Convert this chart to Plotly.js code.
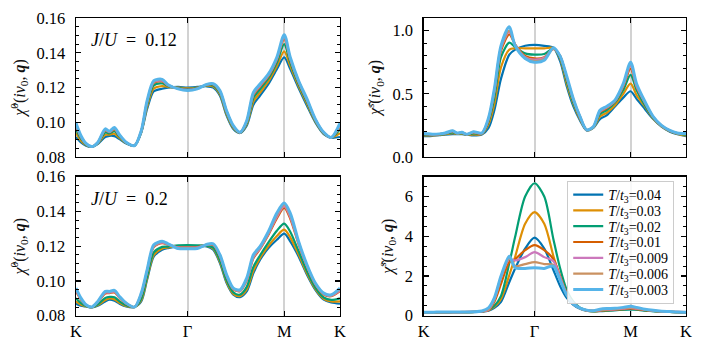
<!DOCTYPE html>
<html>
<head>
<meta charset="utf-8">
<script src="https://cdn.plot.ly/plotly-3.0.1.min.js"></script>
<style>
  html, body { margin: 0; padding: 0; background: #ffffff; }
  #chart { width: 706px; height: 352px; }
</style>
</head>
<body>
<div id="chart"></div>
<script>
// 路徑 K-Γ-M-K 的弧長座標
const qPath = [0, 0.06, 0.12, 0.19, 0.26, 0.35, 0.40, 0.46, 0.52, 0.60,
    0.70, 0.78, 0.85, 0.93, 1.03, 1.10, 1.22, 1.3333, 1.45, 1.56,
    1.64, 1.72, 1.80, 1.88, 1.96, 2.04, 2.12, 2.20, 2.30, 2.40,
    2.488, 2.56, 2.66, 2.76, 2.86, 2.96, 3.05, 3.1547];
const pathTicks = [0, 1.3333, 2.488, 3.1547];
const pathLabels = ['K', 'Γ', 'M', 'K'];
const tempLabels = ['0.04', '0.03', '0.02', '0.01', '0.009', '0.006', '0.003'];

// χ0, J/U = 0.12
const chi0a_T040 = [.0915, .0884, .0865, .0859, .0874, .0915, .0922, .0920, .0903, .0878, .0865, .0940, .1076, .1178, .1193, .1199, .1203, .1200, .1203, .1207, .1200, .1153, .1038, .0961, .0938, .0980, .1101, .1153, .1220, .1306, .1373, .1306, .1197, .1095, .0999, .0932, .0911, .0915];
const chi0a_T030 = [.0937, .0894, .0869, .0859, .0877, .0928, .0929, .0934, .0910, .0880, .0865, .0943, .1089, .1194, .1208, .1204, .1200, .1195, .1200, .1210, .1206, .1161, .1046, .0966, .0939, .0988, .1120, .1171, .1236, .1324, .1408, .1324, .1208, .1106, .1004, .0935, .0912, .0937];
const chi0a_T020 = [.0959, .0905, .0872, .0860, .0880, .0941, .0936, .0948, .0917, .0882, .0866, .0946, .1102, .1212, .1223, .1208, .1197, .1191, .1197, .1213, .1212, .1169, .1053, .0971, .0940, .0996, .1140, .1190, .1252, .1343, .1450, .1343, .1220, .1116, .1009, .0938, .0912, .0959];
const chi0a_T010 = [.0977, .0914, .0875, .0860, .0882, .0952, .0942, .0959, .0923, .0883, .0866, .0949, .1113, .1226, .1235, .1212, .1194, .1187, .1194, .1216, .1217, .1176, .1060, .0976, .0941, .1003, .1156, .1205, .1265, .1359, .1480, .1359, .1230, .1125, .1014, .0940, .0913, .0977];
const chi0a_T009 = [.0983, .0916, .0876, .0860, .0883, .0955, .0944, .0963, .0924, .0884, .0866, .0949, .1117, .1230, .1239, .1213, .1194, .1186, .1194, .1216, .1219, .1178, .1062, .0977, .0941, .1005, .1161, .1210, .1269, .1364, .1488, .1364, .1233, .1128, .1015, .0941, .0913, .0983];
const chi0a_T006 = [.0989, .0919, .0877, .0860, .0883, .0958, .0946, .0966, .0926, .0884, .0866, .0950, .1120, .1234, .1243, .1215, .1193, .1184, .1193, .1217, .1220, .1180, .1064, .0978, .0942, .1007, .1166, .1215, .1273, .1369, .1495, .1369, .1236, .1131, .1016, .0941, .0913, .0989];
const chi0a_T003 = [.0995, .0922, .0878, .0860, .0884, .0962, .0948, .0970, .0928, .0885, .0866, .0951, .1124, .1239, .1247, .1216, .1192, .1183, .1192, .1218, .1222, .1182, .1066, .0980, .0942, .1009, .1172, .1220, .1278, .1374, .1504, .1374, .1239, .1134, .1018, .0942, .0913, .0995];

// χs, J/U = 0.12
const chisa_T040 = [.165, .165, .168, .172, .177, .180, .180, .180, .176, .170, .178, .23, .37, .62, .81, .85, .88, .887, .88, .865, .76, .56, .40, .29, .21, .23, .30, .33, .40, .47, .52, .46, .38, .30, .24, .20, .18, .165];
const chisa_T030 = [.170, .170, .171, .175, .181, .188, .183, .184, .177, .178, .181, .26, .42, .71, .85, .86, .86, .86, .86, .862, .78, .58, .42, .30, .212, .233, .32, .35, .41, .50, .58, .49, .40, .305, .243, .203, .183, .170];
const chisa_T020 = [.176, .175, .175, .178, .184, .195, .186, .188, .178, .187, .185, .28, .47, .79, .905, .87, .82, .81, .815, .858, .79, .60, .43, .31, .213, .236, .34, .37, .43, .53, .65, .53, .41, .31, .246, .206, .186, .176];
const chisa_T010 = [.181, .179, .177, .181, .187, .202, .188, .192, .179, .193, .187, .29, .51, .84, .97, .89, .80, .78, .79, .855, .80, .62, .45, .31, .214, .238, .355, .385, .44, .555, .70, .555, .43, .315, .248, .208, .188, .181];
const chisa_T009 = [.182, .180, .178, .181, .188, .204, .189, .193, .179, .196, .188, .30, .52, .86, .99, .89, .79, .77, .785, .855, .80, .63, .45, .32, .214, .238, .36, .39, .44, .565, .72, .56, .43, .317, .248, .208, .188, .182];
const chisa_T006 = [.183, .182, .179, .182, .189, .206, .189, .194, .180, .198, .189, .305, .53, .87, 1.00, .89, .785, .76, .775, .855, .80, .63, .46, .32, .215, .239, .365, .395, .445, .57, .735, .57, .435, .318, .249, .209, .189, .183];
const chisa_T003 = [.185, .183, .180, .183, .190, .208, .190, .195, .180, .200, .190, .31, .54, .88, 1.03, .88, .78, .75, .765, .865, .80, .64, .46, .32, .215, .24, .37, .40, .45, .58, .75, .58, .44, .32, .25, .21, .19, .185];

// χ0, J/U = 0.2
const chi0b_T040 = [.0869, .0857, .0853, .0848, .0857, .0882, .0892, .0886, .0869, .0853, .0850, .0882, .1007, .1141, .1180, .1189, .1197, .1198, .1197, .1199, .1180, .1103, .0988, .0921, .0907, .0940, .1045, .1122, .1189, .1237, .1272, .1228, .1141, .1036, .0949, .0892, .0876, .0869];
const chi0b_T030 = [.0882, .0863, .0854, .0848, .0861, .0890, .0899, .0894, .0875, .0856, .0850, .0889, .1015, .1150, .1187, .1193, .1200, .1201, .1200, .1201, .1185, .1110, .0995, .0926, .0913, .0951, .1060, .1133, .1202, .1259, .1295, .1251, .1153, .1044, .0954, .0897, .0882, .0882];
const chi0b_T020 = [.0900, .0872, .0856, .0849, .0866, .0902, .0908, .0906, .0883, .0860, .0850, .0898, .1026, .1164, .1196, .1198, .1205, .1206, .1205, .1203, .1192, .1119, .1004, .0934, .0921, .0966, .1081, .1148, .1222, .1289, .1330, .1283, .1171, .1055, .0962, .0905, .0891, .0900];
const chi0b_T010 = [.0941, .0892, .0861, .0850, .0877, .0928, .0930, .0934, .0903, .0869, .0850, .0920, .1053, .1195, .1218, .1209, .1195, .1194, .1195, .1208, .1207, .1141, .1026, .0951, .0941, .1002, .1130, .1184, .1266, .1360, .1420, .1358, .1211, .1082, .0980, .0922, .0912, .0941];
const chi0b_T009 = [.0946, .0895, .0862, .0850, .0879, .0932, .0933, .0938, .0905, .0870, .0850, .0923, .1056, .1199, .1221, .1211, .1193, .1192, .1193, .1208, .1209, .1144, .1029, .0954, .0943, .1006, .1136, .1188, .1272, .1369, .1430, .1368, .1216, .1085, .0983, .0925, .0915, .0946];
const chi0b_T006 = [.0953, .0898, .0862, .0850, .0880, .0936, .0937, .0942, .0908, .0872, .0850, .0927, .1060, .1203, .1225, .1212, .1190, .1189, .1190, .1209, .1212, .1148, .1033, .0956, .0946, .1012, .1144, .1194, .1278, .1380, .1440, .1380, .1222, .1089, .0985, .0927, .0918, .0953];
const chi0b_T003 = [.0959, .0901, .0863, .0850, .0882, .0940, .0940, .0946, .0911, .0873, .0850, .0930, .1064, .1208, .1228, .1214, .1187, .1185, .1187, .1210, .1214, .1151, .1036, .0959, .0949, .1017, .1151, .1199, .1285, .1391, .1448, .1391, .1228, .1093, .0988, .0930, .0921, .0959];

// χs, J/U = 0.2
const chisb_T040 = [.17, .17, .17, .17, .17, .175, .175, .175, .18, .18, .20, .25, .40, .70, 1.70, 2.38, 3.38, 3.93, 3.38, 2.30, 1.50, .90, .55, .35, .25, .22, .23, .25, .28, .31, .33, .31, .27, .23, .21, .19, .18, .17];
const chisb_T030 = [.17, .17, .17, .17, .17, .175, .175, .175, .18, .185, .21, .28, .45, .85, 2.05, 2.97, 4.63, 5.22, 4.63, 3.00, 1.90, 1.05, .60, .36, .25, .22, .24, .26, .29, .33, .36, .33, .28, .24, .21, .19, .18, .17];
const chisb_T020 = [.17, .17, .17, .17, .17, .175, .175, .18, .18, .19, .22, .30, .50, 1.00, 2.65, 3.97, 6.00, 6.67, 6.00, 3.85, 2.40, 1.30, .70, .40, .27, .23, .24, .26, .28, .30, .32, .30, .26, .23, .21, .19, .18, .17];
const chisb_T010 = [.18, .18, .18, .18, .18, .18, .18, .185, .185, .19, .22, .28, .70, 1.60, 2.70, 2.85, 3.30, 3.55, 3.30, 2.85, 2.00, 1.15, .62, .38, .27, .24, .26, .28, .30, .33, .37, .33, .28, .24, .21, .19, .18, .18];
const chisb_T009 = [.18, .18, .18, .18, .18, .18, .18, .185, .19, .195, .22, .30, .80, 1.90, 2.85, 2.78, 2.95, 3.20, 2.95, 2.75, 1.95, 1.10, .62, .38, .27, .24, .27, .30, .32, .35, .39, .35, .30, .25, .22, .20, .19, .18];
const chisb_T006 = [.18, .18, .18, .18, .18, .185, .185, .19, .19, .20, .23, .32, .85, 1.95, 2.90, 2.50, 2.60, 2.70, 2.60, 2.55, 1.85, 1.05, .60, .38, .28, .24, .28, .32, .34, .38, .42, .38, .31, .26, .22, .20, .19, .18];
const chisb_T003 = [.18, .18, .18, .185, .185, .185, .19, .19, .19, .20, .24, .40, .90, 2.00, 3.00, 2.42, 2.38, 2.42, 2.38, 2.50, 1.80, 1.05, .60, .38, .28, .25, .33, .36, .37, .42, .47, .42, .33, .27, .23, .21, .19, .18];

const SERIF = '"Liberation Serif", "DejaVu Serif", serif';
const lineColors = ['#0173b2', '#de8f05', '#029e73', '#d55e00', '#cc78bc', '#ca9161', '#56b4e9'];

const panels = [
    { xa: 'x',  ya: 'y',  legend: false, series: [chi0a_T040, chi0a_T030, chi0a_T020, chi0a_T010, chi0a_T009, chi0a_T006, chi0a_T003] },
    { xa: 'x2', ya: 'y2', legend: false, series: [chisa_T040, chisa_T030, chisa_T020, chisa_T010, chisa_T009, chisa_T006, chisa_T003] },
    { xa: 'x3', ya: 'y3', legend: false, series: [chi0b_T040, chi0b_T030, chi0b_T020, chi0b_T010, chi0b_T009, chi0b_T006, chi0b_T003] },
    { xa: 'x4', ya: 'y4', legend: true,  series: [chisb_T040, chisb_T030, chisb_T020, chisb_T010, chisb_T009, chisb_T006, chisb_T003] }
];

// 建立所有曲線
const traces = [];
panels.forEach(p => {
    p.series.forEach((vals, i) => {
        traces.push({
            x: qPath,
            y: vals,
            xaxis: p.xa,
            yaxis: p.ya,
            type: 'scatter',
            mode: 'lines',
            name: '<i>T</i>/<i>t</i><sub>3</sub>=' + tempLabels[i],
            showlegend: p.legend,
            line: { color: lineColors[i], width: i === 6 ? 3 : 2.2, shape: 'spline', smoothing: 0.8 },
            hoverinfo: 'skip'
        });
    });
});

// 共用座標軸樣式
function frameAxis(extra) {
    return Object.assign({
        showline: true,
        mirror: 'ticks',
        linecolor: '#000',
        linewidth: 1.3,
        ticks: 'inside',
        ticklen: 5,
        tickwidth: 1.1,
        tickcolor: '#000',
        zeroline: false,
        showgrid: false,
        fixedrange: true,
        tickfont: { family: SERIF, size: 16.5, color: '#000' }
    }, extra);
}

function pathAxis(domain, anchor, labels) {
    return frameAxis({
        domain: domain,
        anchor: anchor,
        range: [0, 3.1547],
        tickmode: 'array',
        tickvals: pathTicks,
        ticktext: pathLabels,
        showticklabels: labels,
        showgrid: true,
        gridcolor: '#d2d2d2',
        gridwidth: 2
    });
}

function valueAxis(domain, anchor, range, dtick, minor, fmt, title) {
    return frameAxis({
        domain: domain,
        anchor: anchor,
        range: range,
        tick0: 0,
        dtick: dtick,
        tickformat: fmt,
        ticklabelstandoff: 6,
        minor: { dtick: minor, ticks: 'inside', ticklen: 3, tickcolor: '#000', tickwidth: 1, showgrid: false },
        title: { text: title, font: { family: SERIF, size: 16, color: '#111' }, standoff: 7 }
    });
}

const chi0Title = '<i>χ̂</i><sup>0</sup>(<i>iν</i><sub>0</sub>, <b><i>q</i></b>)';
const chisTitle = '<i>χ̂</i><sup>s</sup>(<i>iν</i><sub>0</sub>, <b><i>q</i></b>)';

const leftDom = [0.1076, 0.4816];
const rightDom = [0.6001, 0.9717];
const topDom = [0.554, 0.9489];
const botDom = [0.1031, 0.498];

const layout = {
    width: 706,
    height: 352,
    margin: { l: 0, r: 0, t: 0, b: 0 },
    paper_bgcolor: '#ffffff',
    plot_bgcolor: '#ffffff',
    font: { family: SERIF, color: '#000' },
    xaxis: pathAxis(leftDom, 'y', false),
    yaxis: valueAxis(topDom, 'x', [0.08, 0.16], 0.02, 0.005, '.2f', chi0Title),
    xaxis2: pathAxis(rightDom, 'y2', false),
    yaxis2: valueAxis(topDom, 'x2', [0, 1.1], 0.5, 0.1, '.1f', chisTitle),
    xaxis3: pathAxis(leftDom, 'y3', true),
    yaxis3: valueAxis(botDom, 'x3', [0.08, 0.16], 0.02, 0.005, '.2f', chi0Title),
    xaxis4: pathAxis(rightDom, 'y4', true),
    yaxis4: valueAxis(botDom, 'x4', [0, 7], 2, 0.5, 'd', chisTitle),
    showlegend: true,
    legend: {
        x: 0.955, xanchor: 'right',
        y: 0.4858, yanchor: 'top',
        bgcolor: 'rgba(255,255,255,0.85)',
        bordercolor: '#cccccc',
        borderwidth: 1,
        font: { family: SERIF, size: 14, color: '#000' },
        tracegroupgap: 0
    },
    annotations: [
        { xref: 'x domain', yref: 'y domain', x: 0.05, y: 0.84, xanchor: 'left', yanchor: 'middle',
          text: '<i>J</i>/<i>U</i>\u2002=\u20020.12', showarrow: false, font: { family: SERIF, size: 18, color: '#000' } },
        { xref: 'x3 domain', yref: 'y3 domain', x: 0.05, y: 0.84, xanchor: 'left', yanchor: 'middle',
          text: '<i>J</i>/<i>U</i>\u2002=\u20020.2', showarrow: false, font: { family: SERIF, size: 18, color: '#000' } }
    ]
};

Plotly.newPlot('chart', traces, layout, { displayModeBar: false, staticPlot: true }).then(gd => {
    // 壓縮圖例行距，使其與原圖一樣緊密
    const legend = gd.querySelector('.legend');
    if (!legend) return;
    const items = legend.querySelectorAll('.traces');
    const pos = Array.from(items).map(el => {
        const m = /translate\(\s*([-\d.]+)[ ,]+([-\d.]+)\s*\)/.exec(el.getAttribute('transform') || '');
        return m ? [parseFloat(m[1]), parseFloat(m[2])] : [0, 0];
    });
    const step = 15.8;
    const oldStep = pos.length > 1 ? pos[1][1] - pos[0][1] : step;
    items.forEach((el, i) => {
        el.setAttribute('transform', 'translate(' + pos[i][0] + ',' + (pos[0][1] - 3 + i * step) + ')');
    });
    const bg = legend.querySelector('.bg');
    if (bg) {
        const h = parseFloat(bg.getAttribute('height'));
        bg.setAttribute('height', h - (oldStep - step) * (items.length - 1) - 6);
    }
});
</script>
</body>
</html>
